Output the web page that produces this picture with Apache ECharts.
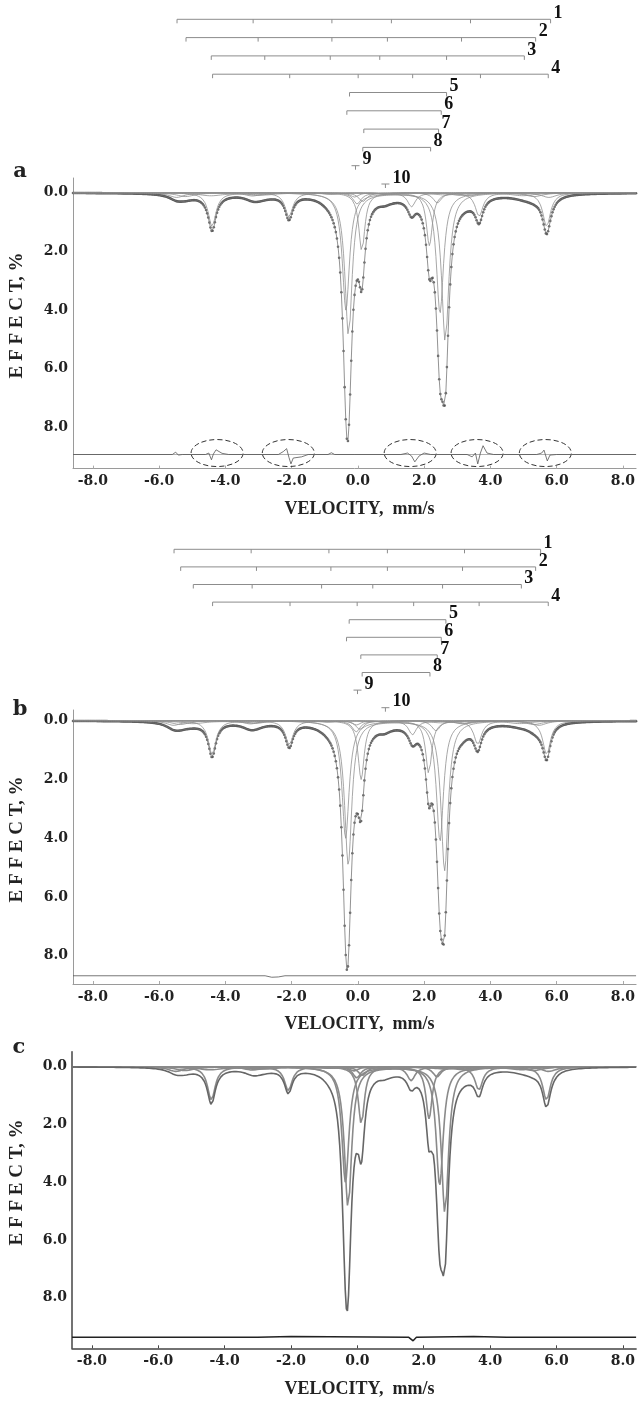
<!DOCTYPE html>
<html>
<head>
<meta charset="utf-8">
<script src="https://cdn.jsdelivr.net/npm/echarts@6/dist/echarts.min.js"></script>
<style>
  html, body { margin: 0; padding: 0; background: #fff; }
  #chart { width: 638px; height: 1404px; }
</style>
</head>
<body>
<div id="chart"></div>
<script>
'use strict';
// tick values of both axes
var velocityTicks = [-8, -6, -4, -2, 0, 2, 4, 6, 8];
var effectTicks = [0, 2, 4, 6, 8];

// line positions (mm/s) of the sub-spectra
var sextetPosA = [
    [-5.47, -3.18, -0.81, 0.98, 3.36, 5.77],
    [-5.20, -3.03, -0.81, 0.86, 3.09, 5.32],
    [-4.44, -2.83, -0.86, 0.63, 2.64, 4.98],
    [-4.40, -2.08, -0.02, 1.62, 3.66, 5.70]
];
var doubletPosA = [[-0.28, 2.64], [-0.36, 2.48], [0.15, 2.40], [0.12, 2.16]];
var singletPosA = [-0.10, 0.80];

var sextetPosB = [
    [-5.56, -3.24, -0.90, 0.86, 3.18, 5.47],
    [-5.36, -3.08, -0.84, 0.86, 3.12, 5.32],
    [-4.98, -3.21, -1.12, 0.42, 2.52, 4.89],
    [-4.40, -2.07, -0.05, 1.65, 3.62, 5.70]
];
var doubletPosB = [[-0.29, 2.62], [-0.37, 2.48], [0.06, 2.36], [0.10, 2.14]];
var singletPosB = [-0.04, 0.80];

// depths (%) and line widths (mm/s) of the sub-spectra
var sextetDepth = [
    [0.16, 0.11, 0.05, 0.05, 0.11, 0.16],
    [0.13, 0.09, 0.04, 0.04, 0.09, 0.13],
    [0.10, 0.07, 0.03, 0.03, 0.07, 0.10],
    [1.15, 0.82, 0.38, 0.48, 0.80, 1.15]
];
var sextetWidth = [0.55, 0.65, 0.9, 0.28];
var doubletDepth = [[4.9, 5.1], [4.0, 4.1], [0.3, 0.35], [2.0, 1.8]];
var doubletWidth = [0.26, 0.26, 0.3, 0.22];
var singletDepth = [0.15, 0.07];
var singletWidth = [0.3, 0.3];

// residuals: [velocity, deviation from the residual level]
var residualLevel = [8.92, 8.68, 9.37];
var residualA = [
    [-8.6, 0], [-5.6, 0], [-5.5, -0.08], [-5.42, 0.02], [-5.3, 0],
    [-4.6, 0], [-4.5, -0.05], [-4.42, 0.18], [-4.36, -0.02], [-4.28, -0.16], [-4.1, -0.04], [-3.9, 0],
    [-2.4, 0], [-2.25, -0.1], [-2.15, -0.2], [-2.08, 0.1], [-2.02, 0.32], [-1.95, 0.12], [-1.7, 0.08], [-1.5, 0],
    [-0.9, 0], [-0.8, -0.06], [-0.7, 0],
    [1.3, 0], [1.5, -0.05], [1.62, 0.05], [1.72, 0.25], [1.85, 0.05], [2.0, -0.05], [2.2, 0],
    [3.3, 0], [3.45, 0.08], [3.55, -0.05], [3.62, 0.32], [3.7, -0.05], [3.78, -0.3], [3.9, -0.05], [4.1, 0],
    [5.4, 0], [5.55, -0.05], [5.62, -0.15], [5.72, 0.22], [5.8, 0.02], [6.0, 0],
    [8.4, 0]
];
var residualB = [
    [-8.6, 0], [-2.8, 0], [-2.6, 0.05], [-2.4, 0.04], [-2.2, 0], [8.4, 0]
];
var residualC = [
    [-8.6, 0], [-3.0, 0], [-2.0, -0.03], [1.55, 0], [1.68, 0.12], [1.78, 0], [3.5, -0.03], [4.5, 0], [8.4, 0]
];
// circled residual regions in panel a
var ellipseCenterA = [-4.25, -2.10, 1.58, 3.60, 5.66];

var X_MIN = -8.6, X_MAX = 8.4;
var channels = [];
for (var i = 0; i <= 512; i++) {
    channels.push(X_MIN + i * (X_MAX - X_MIN) / 512);
}

function lineShape(v, p, d, w) {
    var t = (v - p) / (w / 2);
    return d / (1 + t * t);
}

function buildComponents(sextetPos, doubletPos, singletPos) {
    var comps = [];
    sextetPos.forEach(function (pos, i) {
        comps.push(pos.map(function (p, j) {
            return { p: p, d: sextetDepth[i][j], w: sextetWidth[i] };
        }));
    });
    doubletPos.forEach(function (pos, i) {
        comps.push(pos.map(function (p, j) {
            return { p: p, d: doubletDepth[i][j], w: doubletWidth[i] };
        }));
    });
    singletPos.forEach(function (p, i) {
        comps.push([{ p: p, d: singletDepth[i], w: singletWidth[i] }]);
    });
    return comps;
}

function curve(lines) {
    return channels.map(function (v) {
        var s = 0;
        lines.forEach(function (l) { s += lineShape(v, l.p, l.d, l.w); });
        return [v, s];
    });
}

var serif = '"Liberation Serif", "Times New Roman", serif';
var dejavu = '"DejaVu Serif", serif';

function panelSeries(axisIdx, comps, residual, level, dark) {
    var series = [];
    var all = [];
    comps.forEach(function (c) {
        all = all.concat(c);
        series.push({
            type: 'line', xAxisIndex: axisIdx, yAxisIndex: axisIdx,
            data: curve(c), showSymbol: false, silent: true,
            lineStyle: { color: dark ? '#8a8a8a' : '#909090', width: dark ? 1.6 : 0.8 }
        });
    });
    var total = curve(all);
    if (dark) {
        series.push({
            type: 'line', xAxisIndex: axisIdx, yAxisIndex: axisIdx,
            data: total, showSymbol: false, silent: true,
            lineStyle: { color: '#666', width: 1.6 }
        });
    } else {
        series.push({
            type: 'line', xAxisIndex: axisIdx, yAxisIndex: axisIdx,
            data: total, showSymbol: false, silent: true,
            lineStyle: { color: '#777', width: 0.8 }
        });
        series.push({
            type: 'scatter', xAxisIndex: axisIdx, yAxisIndex: axisIdx,
            data: total, symbol: 'circle', symbolSize: 2.6, silent: true,
            itemStyle: { color: '#4a4a4a' }
        });
    }
    series.push({
        type: 'line', xAxisIndex: axisIdx, yAxisIndex: axisIdx,
        data: residual.map(function (r) { return [r[0], level + r[1]]; }),
        showSymbol: false, silent: true,
        lineStyle: { color: dark ? '#222' : '#555', width: dark ? 1.5 : 0.8 }
    });
    return series;
}

function stickSeries(axisIdx, rows) {
    return {
        type: 'custom', xAxisIndex: axisIdx, yAxisIndex: axisIdx, silent: true,
        data: rows.map(function (r, i) { return [0, i + 1]; }),
        renderItem: function (params, api) {
            var pos = rows[params.dataIndex];
            var y = api.coord([0, params.dataIndex + 1])[1];
            var px = pos.map(function (p) { return api.coord([p, params.dataIndex + 1])[0]; });
            var left = Math.min.apply(null, px);
            var right = Math.max.apply(null, px);
            if (px.length === 1) { left -= 4; right += 4; }
            var stroke = { stroke: '#8c8c8c', lineWidth: 1 };
            var children = [{ type: 'line', shape: { x1: left, y1: y, x2: right, y2: y }, style: stroke }];
            px.forEach(function (x) {
                children.push({ type: 'line', shape: { x1: x, y1: y, x2: x, y2: y + 4 }, style: stroke });
            });
            children.push({
                type: 'text', x: right + 3, y: y - 6,
                style: { text: String(params.dataIndex + 1), font: 'bold 18px ' + serif, fill: '#111', align: 'left', verticalAlign: 'middle' }
            });
            return { type: 'group', children: children };
        }
    };
}

function ellipseSeries(axisIdx, centers, level) {
    return {
        type: 'custom', xAxisIndex: axisIdx, yAxisIndex: axisIdx, silent: true,
        data: centers.map(function (c) { return [c, level - 0.05]; }),
        renderItem: function (params, api) {
            var c = api.coord([api.value(0), api.value(1)]);
            var s = api.size([1.57, 0.92]);
            return {
                type: 'ellipse',
                shape: { cx: c[0], cy: c[1], rx: s[0] / 2, ry: s[1] / 2 },
                style: { fill: 'none', stroke: '#333', lineWidth: 1, lineDash: [5, 3] }
            };
        }
    };
}

function plotXAxis(grid, dark) {
    return {
        type: 'value', gridIndex: grid, min: X_MIN, max: X_MAX,
        axisLine: { show: true, onZero: false, lineStyle: { color: dark ? '#444' : '#9a9a9a', width: dark ? 1.5 : 1 } },
        axisTick: { show: true, inside: true, length: 3, customValues: velocityTicks, lineStyle: { color: dark ? '#444' : '#aaa' } },
        axisLabel: {
            customValues: velocityTicks, margin: 6,
            formatter: function (v) { return v.toFixed(1); },
            fontFamily: dejavu, fontWeight: 'bold', fontSize: 14, color: '#222'
        },
        splitLine: { show: false }
    };
}

function plotYAxis(grid, min, max, dark) {
    return {
        type: 'value', gridIndex: grid, min: min, max: max, inverse: true,
        axisLine: { show: true, onZero: false, lineStyle: { color: dark ? '#444' : '#9a9a9a', width: dark ? 1.5 : 1 } },
        axisTick: { show: false },
        axisLabel: {
            customValues: effectTicks, margin: 5,
            formatter: function (v) { return v.toFixed(1); },
            fontFamily: dejavu, fontWeight: 'bold', fontSize: 14, color: '#222'
        },
        splitLine: { show: false }
    };
}

function hiddenX(grid) {
    return { type: 'value', gridIndex: grid, min: X_MIN, max: X_MAX, show: false };
}
function hiddenY(grid) {
    return { type: 'value', gridIndex: grid, min: 0, max: 11, inverse: true, show: false };
}

var compsA = buildComponents(sextetPosA, doubletPosA, singletPosA);
var compsB = buildComponents(sextetPosB, doubletPosB, singletPosB);
var compsC = buildComponents(sextetPosA, doubletPosA, singletPosA);

var rowsA = sextetPosA.concat(doubletPosA, singletPosA.map(function (p) { return [p]; }));
var rowsB = sextetPosB.concat(doubletPosB, singletPosB.map(function (p) { return [p]; }));

var chart = echarts.init(document.getElementById('chart'));

function titleText(x, y, text, rot, size, family) {
    return {
        type: 'text', x: x, y: y, rotation: rot || 0, silent: true,
        style: { text: text, font: 'bold ' + size + 'px ' + family, fill: '#222', align: 'center', verticalAlign: 'middle' }
    };
}

var option = {
    animation: false,
    backgroundColor: '#fff',
    grid: [
        { left: 73, right: 0, top: 1, height: 201.3 },
        { left: 73, right: 0, top: 178, height: 290.6 },
        { left: 73, right: 0, top: 531.7, height: 193.6 },
        { left: 73, right: 0, top: 710, height: 274 },
        { left: 72, right: 0, top: 1051.7, height: 296.6 }
    ],
    xAxis: [hiddenX(0), plotXAxis(1), hiddenX(2), plotXAxis(3), plotXAxis(4, true)],
    yAxis: [
        hiddenY(0),
        plotYAxis(1, -0.5, 9.4),
        hiddenY(2),
        plotYAxis(3, -0.36, 8.96),
        plotYAxis(4, -0.52, 9.75, true)
    ],
    graphic: [
        titleText(20, 172, 'a', 0, 21, dejavu),
        titleText(20, 710, 'b', 0, 21, dejavu),
        titleText(19, 1048, 'c', 0, 21, dejavu),
        titleText(17, 315.5, 'E F F E C T, %', Math.PI / 2, 19, serif),
        titleText(17, 839.5, 'E F F E C T, %', Math.PI / 2, 19, serif),
        titleText(17, 1182.5, 'E F F E C T, %', Math.PI / 2, 19, serif),
        titleText(359.5, 509, 'VELOCITY,  mm/s', 0, 18, serif),
        titleText(359.5, 1024, 'VELOCITY,  mm/s', 0, 18, serif),
        titleText(359.5, 1389, 'VELOCITY,  mm/s', 0, 18, serif)
    ],
    series: [].concat(
        [stickSeries(0, rowsA)],
        [{
            type: 'line', xAxisIndex: 1, yAxisIndex: 1, silent: true, showSymbol: false,
            data: [[X_MIN, residualLevel[0]], [X_MAX, residualLevel[0]]],
            lineStyle: { color: '#b0b0b0', width: 1 }
        }],
        panelSeries(1, compsA, residualA, residualLevel[0], false),
        [ellipseSeries(1, ellipseCenterA, residualLevel[0])],
        [stickSeries(2, rowsB)],
        panelSeries(3, compsB, residualB, residualLevel[1], false),
        panelSeries(4, compsC, residualC, residualLevel[2], true)
    )
};
chart.setOption(option);
</script>
</body>
</html>
